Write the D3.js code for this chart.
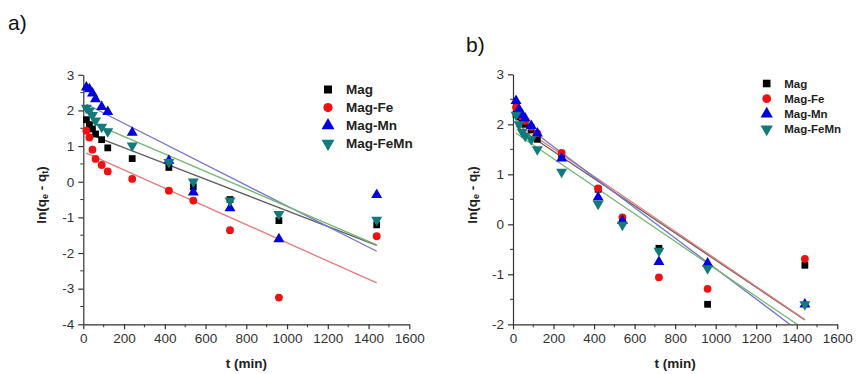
<!DOCTYPE html>
<html>
<head>
<meta charset="utf-8">
<script src="https://cdn.jsdelivr.net/npm/d3@7"></script>
<style>
  html, body { margin: 0; padding: 0; background: #fff; }
  svg { display: block; font-family: "Liberation Sans", Arial, sans-serif; }
</style>
</head>
<body>
<svg id="chart" width="856" height="374"></svg>
<script>
// Sampling times (min)
const times = [15, 30, 45, 60, 90, 120, 240, 420, 540, 720, 960, 1440];
const seriesNames = ["Mag", "Mag-Fe", "Mag-Mn", "Mag-FeMn"];

// Panel a) ln(qe - qt)
const aMag    = [1.74, 1.60, 1.48, 1.34, 1.18, 0.95, 0.65, 0.40, -0.14, -0.50, -1.09, -1.21];
const aMagFe  = [1.43, 1.24, 0.90, 0.64, 0.47, 0.29, 0.08, -0.25, -0.53, -1.36, -3.25, -1.53];
const aMagMn  = [2.65, 2.60, 2.48, 2.32, 2.10, 1.96, 1.38, 0.59, -0.30, -0.74, -1.61, -0.37];
const aMagFeMn = [2.07, 1.99, 1.87, 1.71, 1.54, 1.41, 1.01, 0.55, 0.00, -0.53, -0.91, -1.07];

// Panel b) ln(qe - qt)
const bMag    = [2.20, 2.15, 2.05, 2.00, 1.89, 1.70, 1.40, 0.70, 0.10, -0.48, -1.60, -0.82];
const bMagFe  = [2.34, 2.25, 2.15, 2.07, 1.95, 1.82, 1.43, 0.72, 0.14, -1.06, -1.29, -0.69];
const bMagMn  = [2.47, 2.30, 2.19, 2.12, 1.97, 1.82, 1.32, 0.54, 0.07, -0.75, -0.78, -1.60];
const bMagFeMn = [2.19, 2.00, 1.85, 1.77, 1.70, 1.50, 1.05, 0.41, -0.01, -0.53, -0.88, -1.60];

// Axis ticks
const xTicks = [0, 200, 400, 600, 800, 1000, 1200, 1400, 1600];
const aYTicks = [-4, -3, -2, -1, 0, 1, 2, 3];
const bYTicks = [-2, -1, 0, 1, 2, 3];

// Styling per series
const markerColors = ["#000000", "#ee1111", "#0000dd", "#117a7a"];
const fitColors = ["#606060", "#e87a7a", "#7474cc", "#72b872"];
const symbols = [d3.symbolSquare, d3.symbolCircle, d3.symbolTriangle, d3.symbolTriangle];
const symbolSizes = [46, 48, 52, 52];
const symbolRotate = [0, 0, 0, 180];

const svg = d3.select("#chart");
const axisColor = "#333";

// Least-squares line through one series
function linearFit(xs, ys) {
  const mx = d3.mean(xs), my = d3.mean(ys);
  let sxy = 0, sxx = 0;
  xs.forEach((x, i) => { sxy += (x - mx) * (ys[i] - my); sxx += (x - mx) * (x - mx); });
  const slope = sxy / sxx;
  return { slope, intercept: my - slope * mx };
}

function drawPanel(cfg) {
  const g = svg.append("g");
  const x = d3.scaleLinear().domain([0, 1600]).range(cfg.xRange);
  const y = d3.scaleLinear().domain(cfg.yDomain).range(cfg.yRange);

  const clipId = "clip-" + cfg.id;
  g.append("clipPath").attr("id", clipId)
    .append("rect")
    .attr("x", cfg.xRange[0]).attr("y", cfg.yRange[1])
    .attr("width", cfg.xRange[1] - cfg.xRange[0])
    .attr("height", cfg.yRange[0] - cfg.yRange[1]);

  // Minor ticks
  const xMinor = d3.range(100, 1600, 200);
  const yMinor = d3.range(cfg.yDomain[0] + 0.5, cfg.yDomain[1], 1);
  g.append("g").selectAll("line").data(xMinor).join("line")
    .attr("x1", d => x(d)).attr("x2", d => x(d))
    .attr("y1", cfg.yRange[0]).attr("y2", cfg.yRange[0] + 3)
    .attr("stroke", axisColor).attr("stroke-width", 1);
  g.append("g").selectAll("line").data(yMinor).join("line")
    .attr("x1", cfg.xRange[0] - 3).attr("x2", cfg.xRange[0])
    .attr("y1", d => y(d)).attr("y2", d => y(d))
    .attr("stroke", axisColor).attr("stroke-width", 1);

  // Axes
  const xAxis = g.append("g")
    .attr("transform", `translate(0,${cfg.yRange[0]})`)
    .call(d3.axisBottom(x).tickValues(xTicks).tickSize(5).tickPadding(4).tickSizeOuter(0)
      .tickFormat(d3.format("d")));
  const yAxis = g.append("g")
    .attr("transform", `translate(${cfg.xRange[0]},0)`)
    .call(d3.axisLeft(y).tickValues(cfg.yTicks).tickSize(5).tickPadding(4).tickSizeOuter(0)
      .tickFormat(d3.format("d")));
  [xAxis, yAxis].forEach(ax => {
    ax.select(".domain").attr("stroke", axisColor).attr("stroke-width", 1.2);
    ax.selectAll(".tick line").attr("stroke", axisColor).attr("stroke-width", 1.2);
    ax.selectAll(".tick text").attr("fill", "#333")
      .style("font-size", "13.5px")
      .style("font-family", "'Liberation Sans', Arial, sans-serif");
  });
  yAxis.selectAll(".tick text").text(d => d < 0 ? "-" + Math.abs(d) : d);

  // Fitted lines
  const lines = g.append("g").attr("clip-path", `url(#${clipId})`);
  const t0 = d3.min(times), t1 = d3.max(times);
  cfg.series.forEach((vals, i) => {
    const f = linearFit(times, vals);
    lines.append("line")
      .attr("x1", x(t0)).attr("y1", y(f.intercept + f.slope * t0))
      .attr("x2", x(t1)).attr("y2", y(f.intercept + f.slope * t1))
      .attr("stroke", fitColors[i]).attr("stroke-width", 1.3);
  });

  // Data points
  cfg.series.forEach((vals, i) => {
    const sym = d3.symbol().type(symbols[i]).size(symbolSizes[i]);
    g.append("g").selectAll("path").data(vals.map((v, k) => [times[k], v])).join("path")
      .attr("d", sym)
      .attr("transform", d => `translate(${x(d[0])},${y(d[1])}) rotate(${symbolRotate[i]})`)
      .attr("fill", markerColors[i]);
  });

  // Legend
  const lg = g.append("g");
  seriesNames.forEach((name, i) => {
    const ly = cfg.legend.y + i * cfg.legend.dy;
    const sym = d3.symbol().type(symbols[i]).size(symbolSizes[i] * cfg.legend.scale);
    lg.append("path").attr("d", sym)
      .attr("transform", `translate(${cfg.legend.x},${ly}) rotate(${symbolRotate[i]})`)
      .attr("fill", markerColors[i]);
    lg.append("text")
      .attr("x", cfg.legend.x + cfg.legend.textDx).attr("y", ly)
      .attr("dy", "0.35em")
      .style("font-size", cfg.legend.fontSize + "px").style("font-weight", "bold")
      .attr("fill", "#222")
      .text(name);
  });

  // Axis titles
  g.append("text")
    .attr("x", (cfg.xRange[0] + cfg.xRange[1]) / 2).attr("y", 368)
    .attr("text-anchor", "middle")
    .style("font-size", "13.5px").style("font-weight", "bold").attr("fill", "#222")
    .text("t (min)");

  const yt = g.append("text")
    .attr("transform", `translate(${cfg.yTitleX},${cfg.yTitleY}) rotate(-90)`)
    .attr("text-anchor", "middle")
    .style("font-size", "13.5px").style("font-weight", "bold").attr("fill", "#222");
  yt.append("tspan").text("ln(q");
  yt.append("tspan").attr("baseline-shift", "-25%").style("font-size", "9px").text("e");
  yt.append("tspan").text(" - q");
  yt.append("tspan").attr("baseline-shift", "-25%").style("font-size", "9px").text("t");
  yt.append("tspan").text(")");

  // Panel letter
  svg.append("text")
    .attr("x", cfg.letter.x).attr("y", cfg.letter.y)
    .style("font-size", "21px").attr("fill", "#111")
    .text(cfg.letter.text);
}

drawPanel({
  id: "a",
  xRange: [83.3, 409.3],
  yDomain: [-4, 3], yRange: [324.3, 74.8],
  yTicks: aYTicks,
  series: [aMag, aMagFe, aMagMn, aMagFeMn],
  legend: { x: 328, y: 89.5, dy: 18, textDx: 18, fontSize: 13.5, scale: 1.4 },
  yTitleX: 46, yTitleY: 195,
  letter: { x: 8, y: 30, text: "a)" }
});

drawPanel({
  id: "b",
  xRange: [513, 837.3],
  yDomain: [-2, 3], yRange: [324.3, 74.3],
  yTicks: bYTicks,
  series: [bMag, bMagFe, bMagMn, bMagFeMn],
  legend: { x: 766.7, y: 83.5, dy: 15.2, textDx: 17.5, fontSize: 11.5, scale: 1.25 },
  yTitleX: 477, yTitleY: 195,
  letter: { x: 466, y: 52, text: "b)" }
});
</script>
</body>
</html>
